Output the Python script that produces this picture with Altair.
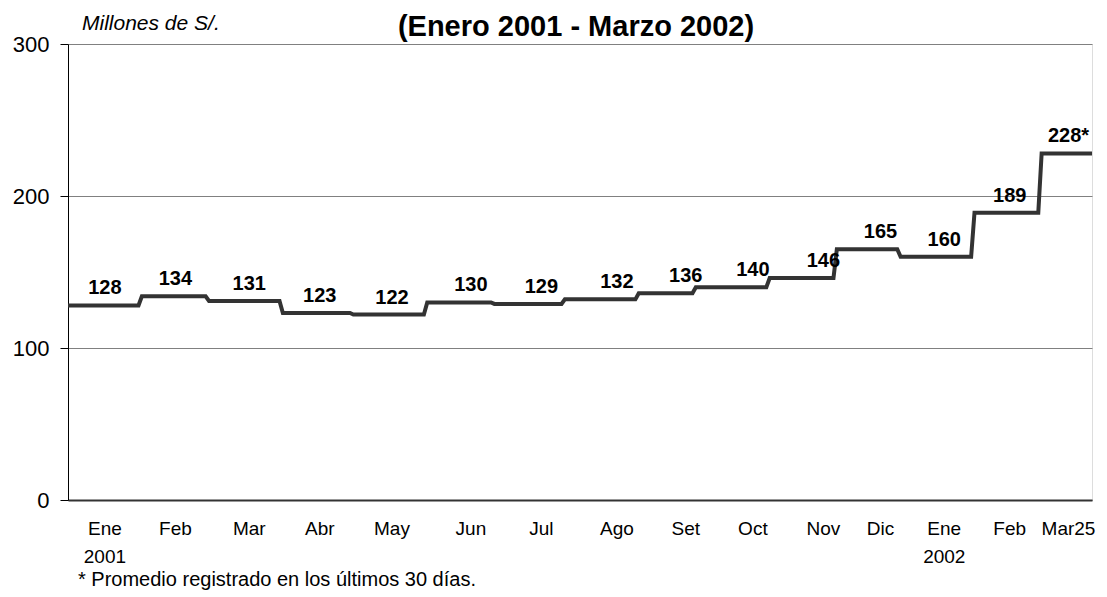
import altair as alt
import pandas as pd

# ---- data ----
months = ["Ene", "Feb", "Mar", "Abr", "May", "Jun", "Jul", "Ago", "Set", "Oct",
          "Nov", "Dic", "Ene", "Feb", "Mar25"]
years = ["2001", "", "", "", "", "", "", "", "", "", "", "", "2002", "", ""]
values = [128, 134, 131, 123, 122, 130, 129, 132, 136, 140, 146, 165, 160, 189, 228]
value_labels = ["128", "134", "131", "123", "122", "130", "129", "132", "136",
                "140", "146", "165", "160", "189", "228*"]
# number of daily observations per month (x axis is an index of observations)
days = [22, 20, 22, 21, 22, 20, 21, 22, 17, 22, 20, 19, 22, 20, 16]
# position (observation index) of each month's label
label_pos = [11, 32, 54, 75, 96.5, 120, 141, 163.5, 184, 204, 225, 242, 261, 280.5, 298]

title_text = "(Enero 2001 - Marzo 2002)"
unit_text = "Millones de S/."
note_text = "* Promedio registrado en los últimos 30 días."

# ---- build tables ----
rows = []
start = 0
order = 0
for v, n in zip(values, days):
    rows.append({"idx": start, "v": v, "ord": order}); order += 1
    rows.append({"idx": start + n - 1, "v": v, "ord": order}); order += 1
    start += n
line_df = pd.DataFrame(rows)
xmax = start - 1

lab_df = pd.DataFrame({"pos": label_pos, "v": values, "lab": value_labels,
                       "month": months, "year": years})
year_df = lab_df[lab_df["year"] != ""]

FONT = "Liberation Sans"
W, H = 1024, 456

xscale = alt.Scale(domain=[0, xmax], nice=False, zero=False)
yscale = alt.Scale(domain=[0, 300], nice=False)

line = alt.Chart(line_df).mark_line(color="#333333", strokeWidth=4).encode(
    x=alt.X("idx:Q", scale=xscale,
            axis=alt.Axis(title=None, labels=False, ticks=False, grid=False,
                          domainColor="#333333", domainWidth=2)),
    y=alt.Y("v:Q", scale=yscale,
            axis=alt.Axis(title=None, values=[0, 100, 200, 300], grid=True,
                          gridColor="#808080", gridWidth=1,
                          tickColor="#000000", tickSize=8, tickWidth=1,
                          domainColor="#000000", domainWidth=1,
                          labelFont=FONT, labelFontSize=22, labelColor="#000000",
                          labelPadding=11)),
    order="ord:Q",
)

vlabels = alt.Chart(lab_df).mark_text(font=FONT, fontSize=20, fontWeight="bold",
                                      color="#000000", dy=-11,
                                      baseline="alphabetic").encode(
    x=alt.X("pos:Q", scale=xscale), y=alt.Y("v:Q", scale=yscale), text="lab:N")

mlabels = alt.Chart(lab_df).mark_text(font=FONT, fontSize=19, color="#000000",
                                      baseline="alphabetic").encode(
    x=alt.X("pos:Q", scale=xscale), y=alt.value(H + 35), text="month:N")

ylabels = alt.Chart(year_df).mark_text(font=FONT, fontSize=19, color="#000000",
                                       baseline="alphabetic").encode(
    x=alt.X("pos:Q", scale=xscale), y=alt.value(H + 63), text="year:N")

text_df = pd.DataFrame({"t": [note_text]})
note = alt.Chart(text_df).mark_text(font=FONT, fontSize=20, color="#000000",
                                    align="left", baseline="alphabetic").encode(
    x=alt.value(10), y=alt.value(H + 86), text="t:N")

unit_df = pd.DataFrame({"t": [unit_text]})
unit = alt.Chart(unit_df).mark_text(font=FONT, fontSize=21, fontStyle="italic",
                                    color="#000000", align="left",
                                    baseline="alphabetic").encode(
    x=alt.value(14), y=alt.value(-14), text="t:N")

title_df = pd.DataFrame({"t": [title_text]})
title = alt.Chart(title_df).mark_text(font=FONT, fontSize=29, fontWeight="bold",
                                      color="#000000", align="center",
                                      baseline="alphabetic").encode(
    x=alt.value(508), y=alt.value(-8), text="t:N")

chart = alt.layer(line, vlabels, mlabels, ylabels, note, unit, title).properties(
    width=W, height=H,
    autosize=alt.AutoSizeParams(type="none"),
    padding={"left": 60, "top": 36, "right": 7, "bottom": 95},
).configure_view(stroke="#999999", strokeWidth=1).configure(font=FONT, background="white")

chart.save("out.html", embed_options={"renderer": "svg", "actions": False})
